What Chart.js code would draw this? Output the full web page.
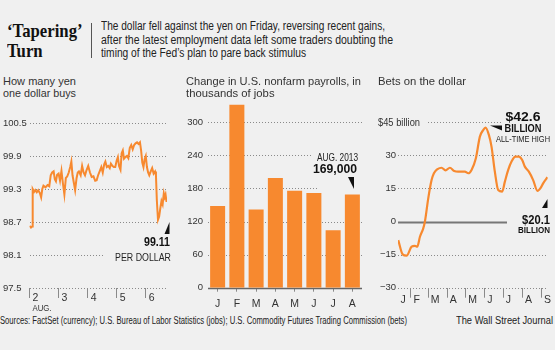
<!DOCTYPE html>
<html>
<head>
<meta charset="utf-8">
<script src="https://cdn.jsdelivr.net/npm/chart.js"></script>
<style>
  html, body { margin: 0; padding: 0; background: #f0f0f0; }
  #wrap { position: relative; width: 555px; height: 350px; overflow: hidden; background: #f0f0f0; color: #222; font-family: "Liberation Sans", Arial, sans-serif; }
  .abs { position: absolute; white-space: nowrap; transform-origin: left top; }
  canvas { position: absolute; }
  #hed { left: 7px; top: 21px; font: bold 19px/20px "Liberation Serif", serif; color: #111; transform: scaleX(0.88); }
  #rule { left: 91px; top: 23px; width: 1px; height: 35px; background: #555; }
  .dek { left: 101px; font-size: 12px; line-height: 13px; color: #222; }
  .ttl { font-size: 11.3px; line-height: 12.5px; color: #333; }
  .foot { top: 314.5px; font-size: 10px; line-height: 11px; color: #222; }
</style>
</head>
<body>
<div id="wrap">
  <canvas id="yenChart" width="180" height="215" style="left:0;top:100px"></canvas>
  <canvas id="jobsChart" width="190" height="230" style="left:180px;top:85px"></canvas>
  <canvas id="betsChart" width="185" height="215" style="left:370px;top:100px"></canvas>

  <div class="abs" id="hed">‘Tapering’<br>Turn</div>
  <div class="abs" id="rule"></div>
  <div class="abs dek" style="top:20px" data-w="284">The dollar fell against the yen on Friday, reversing recent gains,</div>
  <div class="abs dek" style="top:33.5px" data-w="292">after the latest employment data left some traders doubting the</div>
  <div class="abs dek" style="top:47px" data-w="205">timing of the Fed’s plan to pare back stimulus</div>

  <div class="abs ttl" style="left:3px;top:74.5px" data-w="73">How many yen</div>
  <div class="abs ttl" style="left:3px;top:87px" data-w="73">one dollar buys</div>
  <div class="abs ttl" style="left:186px;top:74.5px" data-w="175">Change in U.S. nonfarm payrolls, in</div>
  <div class="abs ttl" style="left:186px;top:87px">thousands of jobs</div>
  <div class="abs ttl" style="left:378px;top:74.5px">Bets on the dollar</div>

  <div class="abs foot" style="left:0" data-w="407">Sources: FactSet (currency); U.S. Bureau of Labor Statistics (jobs); U.S. Commodity Futures Trading Commission (bets)</div>
  <div class="abs foot" style="left:456px" data-w="97">The Wall Street Journal</div>
</div>

<script>
// yen per dollar, Sept. 2-6 (x = day of month)
const yenDays = [2.00, 2.05, 2.09, 2.11, 2.16, 2.20, 2.25, 2.30, 2.36, 2.40, 2.44, 2.48, 2.55, 2.62, 2.68,
  2.73, 2.78, 2.83, 2.87, 2.91, 2.95, 3.00, 3.05, 3.10, 3.15, 3.20, 3.25, 3.30, 3.35, 3.40, 3.44,
  3.48, 3.53, 3.57, 3.62, 3.66, 3.70, 3.76, 3.81, 3.86, 3.91, 3.96, 4.02, 4.08, 4.14, 4.20, 4.26,
  4.31, 4.36, 4.42, 4.47, 4.52, 4.57, 4.61, 4.66, 4.71, 4.76, 4.80, 4.85, 4.90, 4.95, 5.00, 5.04,
  5.08, 5.13, 5.17, 5.21, 5.25, 5.30, 5.35, 5.40, 5.45, 5.50, 5.55, 5.60, 5.65, 5.70, 5.75, 5.80,
  5.84, 5.88, 5.92, 5.96, 6.00, 6.04, 6.08, 6.12, 6.17, 6.22, 6.27, 6.32, 6.35, 6.38, 6.42, 6.46,
  6.50, 6.54, 6.58, 6.62, 6.65, 6.68, 6.71, 6.72];
const yenValues = [98.63, 98.60, 98.62, 99.30, 99.25, 99.28, 99.24, 99.28, 99.22, 99.15, 99.30, 99.36, 99.33, 99.37, 99.35,
  99.55, 99.60, 99.62, 99.48, 99.44, 99.56, 99.58, 99.45, 99.63, 99.40, 99.20, 99.50, 99.53, 99.60, 99.70, 99.80,
  99.55, 99.40, 99.28, 99.50, 99.60, 99.62, 99.55, 99.72, 99.60, 99.55, 99.64, 99.72, 99.60, 99.52, 99.53, 99.45,
  99.46, 99.55, 99.63, 99.70, 99.60, 99.75, 99.80, 99.70, 99.72, 99.68, 99.76, 99.72, 99.70, 99.70, 99.82, 99.88,
  99.72, 99.65, 99.95, 100.00, 99.85, 99.88, 99.90, 99.86, 100.05, 100.10, 100.02, 100.10, 100.13, 100.15, 100.12, 100.15,
  100.00, 99.78, 99.70, 99.84, 99.90, 99.70, 99.60, 99.55, 99.62, 99.68, 99.58, 99.62, 99.55, 99.10, 98.74, 98.80,
  98.95, 99.08, 99.02, 99.22, 99.15, 99.20, 99.08, 99.11];
const yenTicks = [97.5, 98.1, 98.7, 99.3, 99.9, 100.5];
const yenDayTicks = [2, 3, 4, 5, 6];

// nonfarm payroll change, thousands, Jan-Aug 2013
const jobMonths = ["J", "F", "M", "A", "M", "J", "J", "A"];
const jobValues = [148, 332, 142, 199, 176, 172, 104, 169];
const jobTicks = [0, 60, 120, 180, 240, 300];

// net bets on the dollar, $ billion (x = day of 2013)
const betDays = [10.4, 17.5, 23.9, 32.1, 37.5, 41.3, 45.6, 51.0, 53.7, 59.1, 64.5, 68.3, 74.2, 80.7, 87.2,
  94.2, 101.3, 107.8, 118.6, 124.0, 129.4, 136.4, 142.9, 148.3, 152.1, 157.5, 161.8, 167.2, 172.6, 179.1,
  183.5, 188.9, 194.3, 200.8, 206.2, 211.6, 215.9, 222.4, 229.4, 236.4, 241.9, 245.6, 252.7];
const betValues = [-8.4, -14.9, -15.5, -11.4, -11.0, -11.4, -6.9, -3.1, 0.0, 10.5, 18.8, 21.9, 23.8, 24.4, 23.2,
  24.4, 22.9, 22.6, 22.6, 21.9, 23.4, 28.7, 38.5, 41.5, 42.6, 39.3, 34.0, 22.6, 14.3, 13.6,
  18.1, 23.4, 27.2, 29.4, 29.4, 27.9, 24.9, 22.6, 18.8, 13.9, 15.4, 17.3, 20.1];
const betTicks = [-30, -15, 0, 15, 30, 45];
const betMonthDays = [10, 31, 59, 90, 120, 151, 181, 212, 243];
const betMonthLabels = ["J", "F", "M", "A", "M", "J", "J", "A", "S"];

const ORANGE = "#f7892f";
const SANS = '"Liberation Sans", Arial, sans-serif';
const tickFont = { family: SANS, size: 9.5 };

// squeeze html text lines to the widths of the condensed original face
document.querySelectorAll("[data-w]").forEach((el) => {
  const w = el.getBoundingClientRect().width;
  el.style.transform = "scaleX(" + el.dataset.w / w + ")";
});

// dotted rules, pointer wedges and callouts; coordinates are page pixels
function makeDecor(origin, cfg) {
  return {
    id: "decor",
    beforeDatasetsDraw(chart) {
      const ctx = chart.ctx, y = chart.scales.y;
      ctx.save();
      ctx.translate(-origin[0], -origin[1]);
      (cfg.rules || []).forEach((r) => {
        const py = Math.round(y.getPixelForValue(r.v) + origin[1]) + 0.5;
        ctx.strokeStyle = r.color || "#8a8a8a";
        ctx.lineWidth = r.width || 1;
        ctx.setLineDash(r.dash || [1, 2]);
        ctx.beginPath();
        ctx.moveTo(r.from, py);
        ctx.lineTo(r.to, py);
        ctx.stroke();
      });
      ctx.restore();
    },
    afterDraw(chart) {
      const ctx = chart.ctx;
      ctx.save();
      ctx.translate(-origin[0], -origin[1]);
      ctx.fillStyle = "#111";
      (cfg.wedges || []).forEach((w) => {
        ctx.beginPath();
        ctx.moveTo(w[0][0], w[0][1]);
        for (let i = 1; i < w.length; i++) ctx.lineTo(w[i][0], w[i][1]);
        ctx.closePath();
        ctx.fill();
      });
      (cfg.texts || []).forEach((t) => {
        ctx.save();
        ctx.font = t.font;
        ctx.fillStyle = t.color || "#111";
        ctx.textBaseline = "alphabetic";
        ctx.textAlign = "left";
        const natural = ctx.measureText(t.text).width;
        const sx = t.w ? t.w / natural : 1;
        const width = natural * sx;
        let left = t.x;
        if (t.align === "right") left = t.x - width;
        if (t.align === "center") left = t.x - width / 2;
        ctx.translate(left, t.y);
        ctx.scale(sx, 1);
        ctx.fillText(t.text, 0, 0);
        ctx.restore();
      });
      ctx.restore();
    },
  };
}

function fixTicks(list) {
  return (scale) => { scale.ticks = list.map((v) => ({ value: v })); };
}

// ---- yen ----
new Chart(document.getElementById("yenChart"), {
  type: "line",
  data: {
    datasets: [{
      data: yenDays.map((d, i) => ({ x: d, y: yenValues[i] })),
      borderColor: ORANGE, borderWidth: 2, pointRadius: 0, tension: 0,
    }],
  },
  options: {
    responsive: false, animation: false, devicePixelRatio: 1,
    layout: { padding: { left: 3, right: 13, top: 23, bottom: 0 } },
    plugins: { legend: { display: false }, tooltip: { enabled: false } },
    scales: {
      x: {
        type: "linear", min: 2, max: 6.73,
        afterBuildTicks: fixTicks(yenDayTicks),
        afterFit: (s) => { s.height = 27; },
        grid: { drawOnChartArea: false, drawTicks: true, tickLength: 10, tickColor: "#8a8a8a" },
        border: { display: false },
        ticks: { font: { family: SANS, size: 10.5 }, color: "#333", align: "start", labelOffset: 3, padding: -6.5, callback: (v) => String(v) },
      },
      y: {
        min: 97.5, max: 100.5,
        afterBuildTicks: fixTicks(yenTicks),
        afterFit: (s) => { s.width = 26.5; },
        grid: { display: false, drawTicks: false }, border: { display: false },
        ticks: { font: tickFont, color: "#333", crossAlign: "far", callback: (v) => v.toFixed(1) },
      },
    },
  },
  plugins: [makeDecor([0, 100], {
    rules: [
      { v: 100.5, from: 30, to: 167 }, { v: 99.9, from: 30, to: 167 }, { v: 99.3, from: 30, to: 167 },
      { v: 98.7, from: 30, to: 158 }, { v: 98.1, from: 30, to: 103 }, { v: 97.5, from: 30, to: 167 },
    ],
    wedges: [[[169.5, 222], [169.5, 234], [164.5, 234]]],
    texts: [
      { text: "99.11", x: 170, y: 246, align: "right", w: 26, font: `bold 13px ${SANS}` },
      { text: "PER DOLLAR", x: 171, y: 261, align: "right", w: 56, font: `10px ${SANS}`, color: "#222" },
      { text: "AUG.", x: 32.5, y: 311, w: 19, font: `8.5px ${SANS}`, color: "#333" },
    ],
  })],
});

// ---- payrolls ----
new Chart(document.getElementById("jobsChart"), {
  type: "bar",
  data: {
    labels: jobMonths,
    datasets: [{ data: jobValues, backgroundColor: ORANGE, barPercentage: 0.78, categoryPercentage: 1 }],
  },
  options: {
    responsive: false, animation: false, devicePixelRatio: 1,
    layout: { padding: { left: 0, right: 8, top: 15.26, bottom: 0 } },
    plugins: { legend: { display: false }, tooltip: { enabled: false } },
    scales: {
      x: {
        afterFit: (s) => { s.height = 27.3; },
        grid: { offset: false, drawOnChartArea: false, drawTicks: true, tickLength: 4, tickColor: "#8a8a8a" },
        border: { display: false },
        ticks: { font: { family: SANS, size: 10.5 }, color: "#333", padding: 6 },
      },
      y: {
        min: 0, max: 340,
        afterBuildTicks: fixTicks(jobTicks),
        afterFit: (s) => { s.width = 28; },
        grid: { display: false, drawTicks: false }, border: { display: false },
        ticks: { font: tickFont, color: "#333", padding: 5 },
      },
    },
  },
  plugins: [makeDecor([180, 85], {
    rules: [
      { v: 300, from: 208, to: 362 }, { v: 240, from: 208, to: 311 }, { v: 180, from: 208, to: 318 },
      { v: 120, from: 208, to: 362 }, { v: 60, from: 208, to: 362 },
      { v: 0, from: 208, to: 362, dash: [], color: "#666", width: 1.5 },
    ],
    wedges: [[[348, 177], [354, 177], [354, 189]]],
    texts: [
      { text: "AUG. 2013", x: 358, y: 161, align: "right", w: 41, font: `10px ${SANS}`, color: "#222" },
      { text: "169,000", x: 357, y: 173, align: "right", w: 44, font: `bold 13px ${SANS}` },
    ],
  })],
});

// ---- bets ----
new Chart(document.getElementById("betsChart"), {
  type: "line",
  data: {
    datasets: [{
      data: betDays.map((d, i) => ({ x: d, y: betValues[i] })),
      borderColor: ORANGE, borderWidth: 2.2, pointRadius: 0, tension: 0.4, cubicInterpolationMode: "monotone",
    }],
  },
  options: {
    responsive: false, animation: false, devicePixelRatio: 1,
    layout: { padding: { left: 0, right: 7.3, top: 22.3, bottom: 0 } },
    plugins: { legend: { display: false }, tooltip: { enabled: false } },
    scales: {
      x: {
        type: "linear", min: 10, max: 253,
        afterBuildTicks: fixTicks(betMonthDays),
        afterFit: (s) => { s.height = 27.3; },
        grid: {
          drawOnChartArea: false, drawTicks: true, tickLength: 10,
          tickColor: (c) => (c.index === 0 ? "rgba(0,0,0,0)" : "#8a8a8a"),
        },
        border: { display: false },
        ticks: { font: { family: SANS, size: 10.5 }, color: "#333", align: "start", labelOffset: 2.5, padding: -4, callback: (v, i) => betMonthLabels[i] },
      },
      y: {
        min: -30, max: 45,
        afterBuildTicks: fixTicks(betTicks),
        afterFit: (s) => { s.width = 28; },
        grid: { display: false, drawTicks: false }, border: { display: false },
        ticks: { font: tickFont, color: "#333", padding: 2, callback: (v) => (v === 45 ? "" : String(v).replace("-", "\u2212")) },
      },
    },
  },
  plugins: [makeDecor([370, 100], {
    rules: [
      { v: 45, from: 428, to: 502 }, { v: 30, from: 398, to: 547 }, { v: 15, from: 398, to: 538 },
      { v: 0, from: 398, to: 507, dash: [], color: "#777", width: 2 },
      { v: -15, from: 398, to: 546 }, { v: -30, from: 398, to: 547 },
    ],
    wedges: [[[490, 125.5], [502, 125.5], [502, 130.5]], [[547.5, 199], [547.5, 208], [542, 208]]],
    texts: [
      { text: "$45 billion", x: 378, y: 126, w: 42, font: `10.5px ${SANS}`, color: "#333" },
      { text: "$42.6", x: 523, y: 121, align: "center", w: 35, font: `bold 13px ${SANS}` },
      { text: "BILLION", x: 523, y: 132, align: "center", w: 37, font: `bold 11px ${SANS}` },
      { text: "ALL-TIME HIGH", x: 523, y: 142, align: "center", w: 54, font: `8.5px ${SANS}`, color: "#222" },
      { text: "$20.1", x: 550, y: 223.5, align: "right", w: 28, font: `bold 13px ${SANS}` },
      { text: "BILLION", x: 550, y: 232.5, align: "right", w: 32, font: `bold 9px ${SANS}` },
    ],
  })],
});
</script>
</body>
</html>
